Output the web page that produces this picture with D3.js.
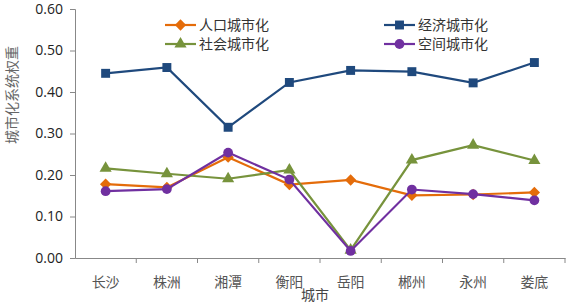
<!DOCTYPE html>
<html>
<head>
<meta charset="utf-8">
<script src="https://cdn.jsdelivr.net/npm/d3@7"></script>
<style>
  body { margin: 0; background: #fff; }
  svg { display: block; }
</style>
</head>
<body>
<svg id="chart"></svg>
<script>
// data
const cities = ['长沙', '株洲', '湘潭', '衡阳', '岳阳', '郴州', '永州', '娄底'];
const population = [0.178, 0.170, 0.243, 0.177, 0.188, 0.151, 0.153, 0.158];
const economy = [0.445, 0.459, 0.315, 0.423, 0.452, 0.449, 0.422, 0.471];
const society = [0.216, 0.203, 0.191, 0.212, 0.019, 0.236, 0.272, 0.235];
const space = [0.161, 0.166, 0.254, 0.189, 0.017, 0.165, 0.154, 0.139];
const yTicks = [0, 0.1, 0.2, 0.3, 0.4, 0.5, 0.6];

// diamond as a square turned 45 degrees, like the reference
const diamond = {
    draw(ctx, size) {
        const r = Math.sqrt(size / 2);
        ctx.moveTo(0, -r);
        ctx.lineTo(r, 0);
        ctx.lineTo(0, r);
        ctx.lineTo(-r, 0);
        ctx.closePath();
    }
};

const series = [
    { name: '人口城市化', values: population, color: '#E46C0A', shape: diamond, size: 64 },
    { name: '经济城市化', values: economy, color: '#1F497D', shape: d3.symbolSquare, size: 80 },
    { name: '社会城市化', values: society, color: '#77933C', shape: d3.symbolTriangle, size: 64 },
    { name: '空间城市化', values: space, color: '#7030A0', shape: d3.symbolCircle, size: 75 }
];

const width = 566, height = 304;
const margin = { top: 9, right: 1, bottom: 46, left: 75 };
const cjk = '"Noto Sans CJK SC", serif';
const latin = '"Open Sans", "Liberation Sans", sans-serif';

const svg = d3.select('#chart')
    .attr('width', width)
    .attr('height', height);

const x = d3.scaleBand()
    .domain(cities)
    .range([margin.left, width - margin.right]);

const y = d3.scaleLinear()
    .domain([0, 0.6])
    .range([height - margin.bottom, margin.top]);

// y axis
const yAxis = svg.append('g')
    .attr('transform', `translate(${margin.left},0)`)
    .call(d3.axisLeft(y).tickValues(yTicks).tickFormat(d3.format('.2f')).tickSize(5).tickPadding(7));
yAxis.select('.domain').attr('stroke', '#888');
yAxis.selectAll('.tick line').attr('stroke', '#888');
yAxis.selectAll('text')
    .attr('font-family', latin)
    .attr('font-size', 14)
    .attr('fill', '#222');

// x axis, ticks on band edges
const xAxis = svg.append('g')
    .attr('transform', `translate(0,${y(0)})`)
    .call(d3.axisBottom(x).tickSize(0).tickPadding(19));
xAxis.select('.domain').attr('stroke', '#888');
xAxis.selectAll('text')
    .attr('font-family', cjk)
    .attr('font-size', 14)
    .attr('fill', '#555');
xAxis.selectAll('.edge')
    .data(cities)
    .enter()
    .append('line')
    .attr('x1', d => x(d) + x.bandwidth())
    .attr('x2', d => x(d) + x.bandwidth())
    .attr('y1', 0)
    .attr('y2', 5)
    .attr('stroke', '#888');

// axis titles
svg.append('text')
    .attr('transform', 'translate(17,95) rotate(-90)')
    .attr('text-anchor', 'middle')
    .attr('font-family', cjk)
    .attr('font-size', 14)
    .attr('fill', '#666')
    .text('城市化系统权重');

svg.append('text')
    .attr('x', 315)
    .attr('y', 300)
    .attr('text-anchor', 'middle')
    .attr('font-family', cjk)
    .attr('font-size', 14)
    .attr('fill', '#444')
    .text('城市');

// lines + markers
const line = d3.line()
    .x((d, i) => x(cities[i]) + x.bandwidth() / 2)
    .y(d => y(d));

series.forEach(s => {
    svg.append('path')
        .datum(s.values)
        .attr('fill', 'none')
        .attr('stroke', s.color)
        .attr('stroke-width', 2.2)
        .attr('d', line);

    svg.selectAll(null)
        .data(s.values)
        .enter()
        .append('path')
        .attr('d', d3.symbol().type(s.shape).size(s.size))
        .attr('transform', (d, i) => `translate(${x(cities[i]) + x.bandwidth() / 2},${y(d)})`)
        .attr('fill', s.color);
});

// legend
const legendPos = [[165, 25], [384, 25], [165, 44], [384, 44]];
series.forEach((s, i) => {
    const [lx, ly] = legendPos[i];
    const g = svg.append('g').attr('transform', `translate(${lx},${ly})`);
    g.append('line')
        .attr('x1', 0).attr('x2', 31)
        .attr('stroke', s.color)
        .attr('stroke-width', 2.2);
    g.append('path')
        .attr('d', d3.symbol().type(s.shape).size(s.size))
        .attr('transform', 'translate(15.5,0)')
        .attr('fill', s.color);
    g.append('text')
        .attr('x', 34)
        .attr('dy', '0.35em')
        .attr('font-family', cjk)
        .attr('font-size', 14)
        .attr('fill', '#333')
        .text(s.name);
});
</script>
</body>
</html>
